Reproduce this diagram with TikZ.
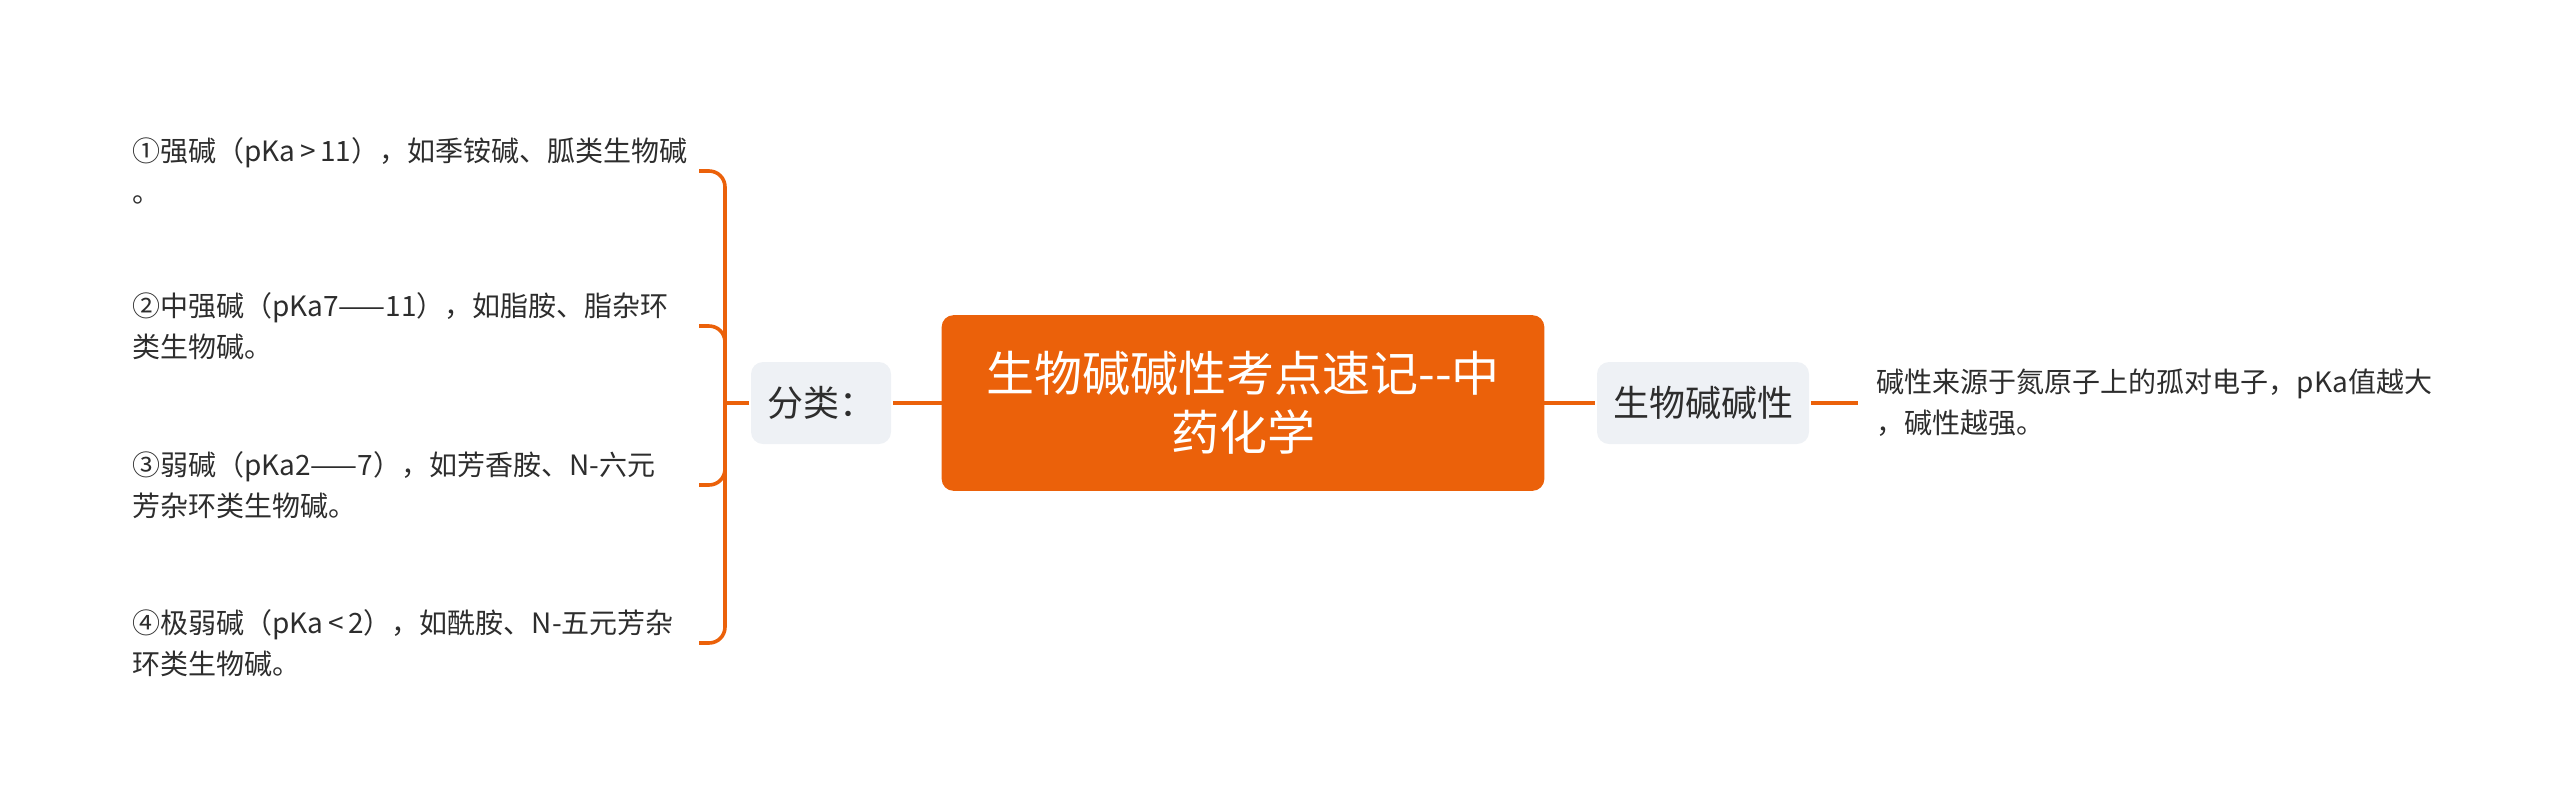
\documentclass[tikz,border=0pt]{standalone}
\usepackage{fontspec}
\setmainfont{Noto Sans CJK SC}
\definecolor{rootorange}{RGB}{235,97,10}
\definecolor{boxgray}{RGB}{238,241,245}
\definecolor{txtgray}{RGB}{45,45,45}
\tikzset{every picture/.style={line width=1.8pt}}
\tikzset{
  rootbox/.style={fill=rootorange, draw=rootorange, rounded corners=5pt, text=white, align=center,
    text width=262pt, minimum width=299.5pt, minimum height=86pt,
    font=\fontsize{24pt}{29.5pt}\selectfont},
  subbox/.style={fill=boxgray, draw=none, rounded corners=6pt, text=txtgray, inner xsep=8pt,
    minimum height=41pt, font=\fontsize{18pt}{22pt}\selectfont},
  leaftext/.style={text=txtgray, align=left, inner sep=0pt,
    font=\fontsize{14pt}{20.5pt}\selectfont},
  branch/.style={draw=rootorange, rounded corners=8pt}
}

\begin{document}
\begin{tikzpicture}[x=0.5pt,y=0.5pt,yscale=-1, xscale=1]
\useasboundingbox (0,0) rectangle (2560,810);

%Shape: Rounded Rect [id:root]
\node[rootbox] (root) at (1243,403) {生物碱碱性考点速记-{}-中\\药化学};
%Shape: Rounded Rect [id:fenlei]
\node[subbox] (fenlei) at (821,403) {分类：};
%Shape: Rounded Rect [id:jianxing]
\node[subbox] (jianxing) at (1703,403) {生物碱碱性};

% Text Node
\node[leaftext, text width=282.5pt, anchor=east] (qiang) at (699,171) {①强碱（pKa\,>\,11），如季铵碱、胍类生物碱\\。};
% Text Node
\node[leaftext, text width=282.5pt, anchor=east] (zhong) at (699,326) {②中强碱（pKa7——11），如脂胺、脂杂环\\类生物碱。};
% Text Node
\node[leaftext, text width=282.5pt, anchor=east] (ruo) at (699,485) {③弱碱（pKa2——7），如芳香胺、N-六元\\芳杂环类生物碱。};
% Text Node
\node[leaftext, text width=282.5pt, anchor=east] (jiruo) at (699,643) {④极弱碱（pKa\,<\,2），如酰胺、N-五元芳杂\\环类生物碱。};
% Text Node
\node[leaftext, text width=290pt, inner xsep=8.5pt, anchor=west] (laiyuan) at (1858,403) {碱性来源于氮原子上的孤对电子，pKa值越大\\，碱性越强。};

%Straight Lines
\draw[branch] (root.west) -- (fenlei.east);
\draw[branch] (root.east) -- (jianxing.west);
\draw[branch] (jianxing.east) -- (laiyuan.west);
\coordinate (fork) at (725,403);
\draw[branch] (fenlei.west) -- (fork);
\foreach \leaf in {qiang,zhong,ruo,jiruo}
  \draw[branch] (fork) |- (\leaf.east);
\end{tikzpicture}
\end{document}
